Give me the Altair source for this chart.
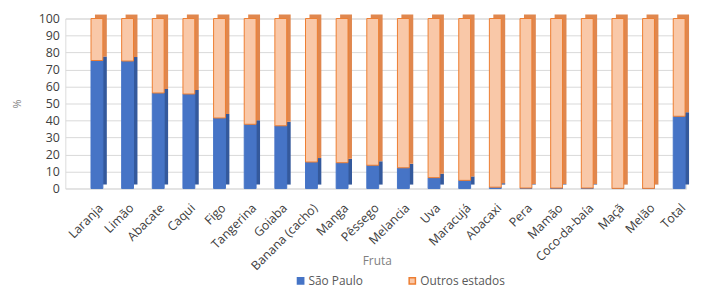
import altair as alt
import pandas as pd

fruits = ["Laranja", "Limão", "Abacate", "Caqui", "Figo", "Tangerina", "Goiaba",
          "Banana (cacho)", "Manga", "Pêssego", "Melancia", "Uva", "Maracujá",
          "Abacaxi", "Pera", "Mamão", "Coco-da-baía", "Maçã", "Melão", "Total"]
sao_paulo = [75.3, 75.0, 56.2, 55.6, 41.5, 37.8, 36.9, 15.6, 15.2, 13.7, 12.2,
             6.4, 4.8, 0.8, 0.3, 0.3, 0.3, 0.1, 0.1, 42.5]
series = ["São Paulo", "Outros estados"]
y_ticks = [0, 10, 20, 30, 40, 50, 60, 70, 80, 90, 100]

rows = []
for f, sp in zip(fruits, sao_paulo):
    rows.append({"Fruta": f, "Origem": series[0], "start": 0.0, "end": sp})
    rows.append({"Fruta": f, "Origem": series[1], "start": sp, "end": 100.0})
df = pd.DataFrame(rows)

FONT = "Open Sans"

x_enc = alt.X("Fruta:N", sort=fruits,
              scale=alt.Scale(paddingInner=0.613, paddingOuter=0.435, align=0.963),
              axis=alt.Axis(title="Fruta", labelAngle=-45, labelAlign="right",
                            labelBaseline="top", labelPadding=13, ticks=False,
                            domain=False, labelFont=FONT, labelFontSize=12.5,
                            labelColor="#404040", titleFont=FONT, titleFontSize=12,
                            titleFontWeight="normal", titleColor="#7f7f7f",
                            titleX=315, titleY=73, titleBaseline="middle",
                            labelOverlap=False))
y_enc = alt.Y("start:Q", scale=alt.Scale(domain=[0, 100], nice=False),
              axis=alt.Axis(title="%", values=y_ticks, ticks=False, domain=False,
                            gridColor="#d9d9d9", labelPadding=6, labelFont=FONT,
                            labelFontSize=12.5, labelColor="#404040",
                            titleFont=FONT, titleFontSize=11, titleFontWeight="normal",
                            titleColor="#7f7f7f", titleX=-48, titleY=86,
                            titleBaseline="middle", titleAngle=-90))

base = alt.Chart(df)

back_blue = base.transform_filter(alt.datum.Origem == series[0]).mark_bar(
    xOffset=4, x2Offset=4, yOffset=-4, y2Offset=-4, color="#34599c"
).encode(x=x_enc, y=y_enc, y2="end:Q")

back_orange = base.transform_filter(alt.datum.Origem == series[1]).mark_bar(
    xOffset=4, x2Offset=4, yOffset=-4, y2Offset=-4, color="#e0874e"
).encode(x=x_enc, y=y_enc, y2="end:Q")

legend_kw = dict(title=None, orient="none", direction="horizontal",
                 legendX=232, legendY=259, symbolType="square",
                 symbolSize=40, labelFont=FONT, labelFontSize=12,
                 labelColor="#595959", columnPadding=42, labelOffset=2)

front = base.mark_bar(strokeWidth=1).encode(
    x=x_enc, y=y_enc, y2="end:Q",
    color=alt.Color("Origem:N", sort=series,
                    scale=alt.Scale(domain=series, range=["#4674c6", "#f9c8a8"]),
                    legend=alt.Legend(**legend_kw)),
    stroke=alt.Stroke("Origem:N", sort=series,
                      scale=alt.Scale(domain=series, range=["#4674c6", "#ed7d31"]),
                      legend=alt.Legend(**legend_kw)),
)

chart = alt.layer(back_blue, back_orange, front).properties(
    width=628, height=172,
    autosize=alt.AutoSizeParams(type="none"),
    padding={"left": 58, "top": 9, "right": 8, "bottom": 100},
).configure_view(stroke=None).configure(background="white")

chart.save("out.html", embed_options={"renderer": "svg", "actions": False})
